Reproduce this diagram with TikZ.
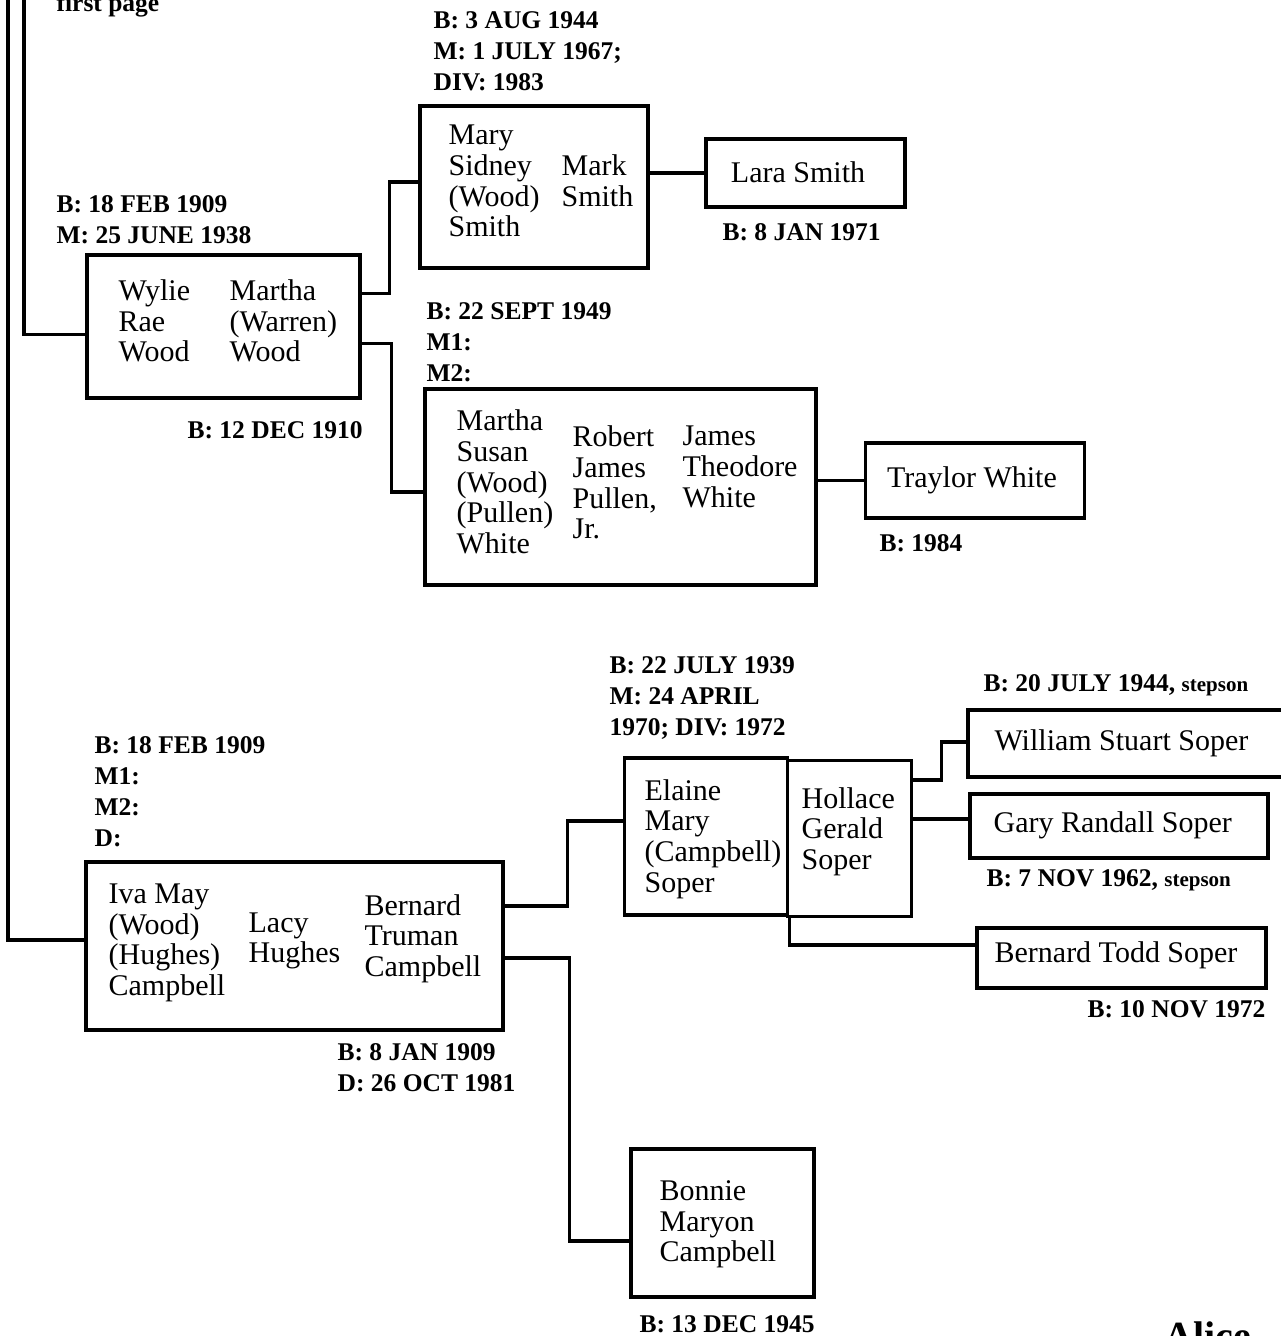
\documentclass[tikz,border=0pt]{standalone}
\usepackage{fontspec}
\setmainfont{Liberation Serif}
\newcommand{\stepsn}{{\fontsize{21}{31}\selectfont stepson}}
\begin{document}
\begin{tikzpicture}[x=1pt,y=-1pt,line width=3.2pt,
  box/.style = {draw, rectangle, inner sep=0pt, line width=3.2pt},
  who/.style = {font=\fontsize{30}{30.7}\selectfont, align=left, anchor=west, inner sep=0pt},
  info/.style = {font=\bfseries\fontsize{25.5}{31}\selectfont, align=left, anchor=west, inner sep=0pt}]
  \useasboundingbox (0,0) rectangle (1281,1336);
  % boxes
  \node[box, minimum width=273pt, minimum height=143pt] (wylie) at (223.5,326.5) {};
  \node[box, minimum width=228pt, minimum height=162pt] (mary) at (534,187) {};
  \node[box, minimum width=199pt, minimum height=68pt] (lara) at (805.5,173) {};
  \node[box, minimum width=391pt, minimum height=196pt] (susan) at (620.5,487) {};
  \node[box, minimum width=219pt, minimum height=75pt] (traylor) at (975,480.5) {};
  \node[box, minimum width=417pt, minimum height=168pt] (iva) at (294.5,946) {};
  \node[box, minimum width=183pt, minimum height=148pt] (bonnie) at (722.5,1223) {};
  \node[box, minimum width=163pt, minimum height=157pt] (elaine) at (706,836.5) {};
  \node[box, minimum width=124pt, minimum height=156pt] (hollace) at (849.5,838.5) {};
  \node[box, minimum width=340pt, minimum height=67pt] (william) at (1138,743.5) {};
  \node[box, minimum width=298pt, minimum height=64pt] (gary) at (1119,826) {};
  \node[box, minimum width=289pt, minimum height=60pt] (todd) at (1121.5,958) {};
  % names
  \node[who] (wylieA) at (117,321) {Wylie\\Rae\\Wood};
  \node[who] (wylieB) at (228,321) {Martha\\(Warren)\\Wood};
  \node[who] (maryA) at (447,181) {Mary\\Sidney\\(Wood)\\Smith};
  \node[who] (maryB) at (560,180.5) {Mark\\Smith};
  \node[who, anchor=center] (laraA) at (798,172) {Lara Smith};
  \node[who] (susanA) at (455,482) {Martha\\Susan\\(Wood)\\(Pullen)\\White};
  \node[who] (susanB) at (571,482.5) {Robert\\James\\Pullen,\\Jr.};
  \node[who] (susanC) at (681,467) {James\\Theodore\\White};
  \node[who, anchor=center] (traylorA) at (972,480) {Traylor White};
  \node[who] (ivaA) at (107,943) {Iva May\\(Wood)\\(Hughes)\\Campbell};
  \node[who] (ivaB) at (247,941) {Lacy\\Hughes};
  \node[who] (ivaC) at (363,938.5) {Bernard\\Truman\\Campbell};
  \node[who] (bonnieA) at (658,1224.5) {Bonnie\\Maryon\\Campbell};
  \node[who] (elaineA) at (643,839) {Elaine\\Mary\\(Campbell)\\Soper};
  \node[who] (hollaceA) at (800,831.5) {Hollace\\Gerald\\Soper};
  \node[who] (williamA) at (993,743) {William Stuart Soper};
  \node[who] (garyA) at (992,825) {Gary Randall Soper};
  \node[who] (toddA) at (993,955) {Bernard Todd Soper};
  % dates
  \node[info, anchor=base west] (top) at (55,11) {first page};
  \node[info] (wylieU) at (55,219.5) {B: 18 FEB 1909\\M: 25 JUNE 1938};
  \node[info] (wylieD) at (186,430) {B: 12 DEC 1910};
  \node[info] (maryU) at (432,51) {B: 3 AUG 1944\\M: 1 JULY 1967;\\DIV: 1983};
  \node[info] (laraD) at (721,232) {B: 8 JAN 1971};
  \node[info] (susanU) at (425,342) {B: 22 SEPT 1949\\M1:\\M2:};
  \node[info] (traylorD) at (878,543) {B: 1984};
  \node[info] (ivaU) at (93,792) {B: 18 FEB 1909\\M1:\\M2:\\D:};
  \node[info] (ivaD) at (336,1067.5) {B: 8 JAN 1909\\D: 26 OCT 1981};
  \node[info] (bonnieD) at (638,1324) {B: 13 DEC 1945};
  \node[info] (elaineU) at (608,698) {B: 22 JULY 1939\\M: 24 APRIL\\1970; DIV: 1972};
  \node[info] (williamU) at (982,685) {B: 20 JULY 1944, \stepsn};
  \node[info] (garyD) at (985,880) {B: 7 NOV 1962, \stepsn};
  \node[info, anchor=east] (toddD) at (1267,1009) {B: 10 NOV 1972};
  \node[anchor=base west, inner sep=0pt, font=\bfseries\fontsize{40}{40}\selectfont] (alice) at (1163,1349) {Alice};
  % lines
  \coordinate (outer) at (8,0);
  \coordinate (inner) at (24,0);
  \draw (outer) |- ([yshift=6pt]iva.west);
  \draw (inner) |- ([yshift=-8pt]wylie.west);
  \draw ([yshift=33pt]wylie.east) -- ++(28,0) |- ([yshift=5pt]mary.west);
  \draw ([yshift=-17pt]wylie.east) -- ++(30,0) |- ([yshift=-5pt]susan.west);
  \draw (lara.west -| mary.east) -- (lara.west);
  \draw (traylor.west -| susan.east) -- (traylor.west);
  \draw ([yshift=40pt]iva.east) -- ++(63,0) |- ([yshift=15.5pt]elaine.west);
  \draw ([yshift=-12pt]iva.east) -- ++(65,0) |- ([yshift=-18pt]bonnie.west);
  \draw ([yshift=58.5pt]hollace.east) -- ++(28,0) |- ([yshift=1.5pt]william.west);
  \draw ([yshift=7pt]gary.west -| hollace.east) -- ([yshift=7pt]gary.west);
  \draw (elaine.south east) |- ([yshift=13pt]todd.west);
\end{tikzpicture}
\end{document}
